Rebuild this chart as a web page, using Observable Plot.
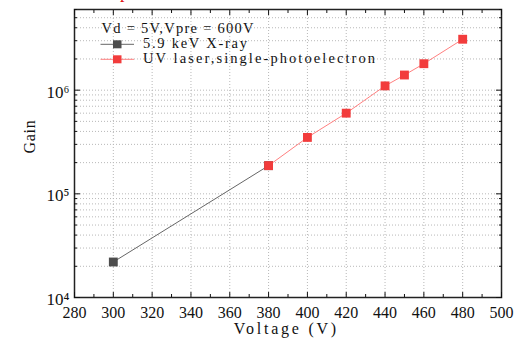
<!DOCTYPE html>
<html>
<head>
<meta charset="utf-8">
<script src="https://cdn.jsdelivr.net/npm/d3@7"></script>
<script src="https://cdn.jsdelivr.net/npm/@observablehq/plot@0.6"></script>
<style>
  html, body { margin: 0; padding: 0; background: #fff; }
  #wrap { position: relative; width: 529px; height: 341px; overflow: hidden; }
  .top-red { position: absolute; left: 120px; top: -18px; font-family: "Liberation Serif", serif; font-size: 18px; color: #e01010; }
</style>
</head>
<body>
<div id="wrap"></div>
<script>
// ---- data ----
const xrayVoltage = [300, 380];
const xrayGain = [2.2e4, 1.87e5];
const uvVoltage = [380, 400, 420, 440, 450, 460, 480];
const uvGain = [1.87e5, 3.5e5, 6.0e5, 1.1e6, 1.4e6, 1.8e6, 3.1e6];
const xTicks = [280, 300, 320, 340, 360, 380, 400, 420, 440, 460, 480, 500];
const xMinorTicks = [290, 310, 330, 350, 370, 390, 410, 430, 450, 470, 490];
const yDecades = [1e4, 1e5, 1e6];
const yTickLabels = ["10\u2074", "10\u2075", "10\u2076"];
const seriesNames = ["5.9 keV X-ray", "UV laser,single-photoelectron"];
const legendTitle = "Vd = 5V,Vpre = 600V";
const xTitle = "Voltage (V)";
const yTitle = "Gain";

const serifFont = "'Liberation Serif', 'Times New Roman', serif";
const yMinor = yDecades.flatMap(d => [2,3,4,5,6,7,8,9].map(k => k * d)).filter(v => v <= 6e6);
const yAll = yDecades.concat(yMinor);
const xray = xrayVoltage.map((v, i) => ({v, g: xrayGain[i]}));
const uv = uvVoltage.map((v, i) => ({v, g: uvGain[i]}));
const gray = "#4d4d4d", grayLine = "#666", red = "#f23c3c", redLine = "#ff8080";

const chart = Plot.plot({
  width: 529, height: 341,
  marginLeft: 74, marginRight: 28, marginTop: 9, marginBottom: 44,
  x: {domain: [280, 500], label: null},
  y: {type: "log", domain: [1e4, 6e6], label: null},
  style: {fontFamily: serifFont, fontSize: "16px", background: "white", color: "#111"},
  marks: [
    Plot.gridX(xTicks, {stroke: "#b8b8b8", strokeOpacity: 1, strokeDasharray: "1,2"}),
    Plot.gridY(yAll, {stroke: "#b8b8b8", strokeOpacity: 1, strokeDasharray: "1,2"}),
    Plot.line(xray, {x: "v", y: "g", stroke: grayLine, strokeWidth: 1}),
    Plot.line(uv, {x: "v", y: "g", stroke: redLine, strokeWidth: 1}),
    Plot.dot(xray, {x: "v", y: "g", symbol: "square", r: 5, fill: gray, stroke: "none"}),
    Plot.dot(uv, {x: "v", y: "g", symbol: "square", r: 5, fill: red, stroke: "none"}),
    Plot.frame({stroke: "#222", strokeWidth: 1.5}),
    // ticks (inward)
    Plot.axisX(xTicks, {anchor: "bottom", tickSize: -5, tickFormat: () => "", label: null}),
    Plot.axisX(xMinorTicks, {anchor: "bottom", tickSize: -3, tickFormat: () => "", label: null}),
    Plot.axisX(xTicks, {anchor: "top", tickSize: -5, tickFormat: () => "", label: null}),
    Plot.axisX(xMinorTicks, {anchor: "top", tickSize: -3, tickFormat: () => "", label: null}),
    Plot.axisY(yDecades, {anchor: "left", tickSize: -6, tickFormat: () => "", label: null}),
    Plot.axisY(yMinor, {anchor: "left", tickSize: -3, tickFormat: () => "", label: null}),
    Plot.axisY(yDecades, {anchor: "right", tickSize: -6, tickFormat: () => "", label: null}),
    Plot.axisY(yMinor, {anchor: "right", tickSize: -3, tickFormat: () => "", label: null}),
    // labels
    Plot.axisX(xTicks, {anchor: "bottom", tickSize: 0, tickPadding: 9, label: null, fontSize: 16, fontFamily: serifFont}),
    Plot.axisY(yDecades, {anchor: "left", tickSize: 0, tickPadding: 5, dy: 2, label: null, fontSize: 17, fontFamily: serifFont,
      tickFormat: d => yTickLabels[yDecades.indexOf(d)]}),
    Plot.text([xTitle], {frameAnchor: "bottom", dy: 36, dx: -3, fontFamily: serifFont, fontSize: 16, fill: "#111"}),
    Plot.text([yTitle], {frameAnchor: "left", dx: -45, rotate: -90, fontFamily: serifFont, fontSize: 16, fill: "#111"})
  ]
});

// mimic the half-width (monospaced) serif font of the original
const svg = d3.select(chart);
svg.selectAll("text").each(function() {
  const t = this.textContent;
  if (t === xTitle) { this.setAttribute("textLength", t.length * 9.3); this.setAttribute("lengthAdjust", "spacing"); }
  if (t === yTitle) { this.setAttribute("textLength", t.length * 8.3); this.setAttribute("lengthAdjust", "spacing"); }
});

// legend (inside plot, top-left)
const leg = svg.append("g").attr("font-family", serifFont).attr("font-size", 14.5)
  .attr("fill", "#111").attr("text-anchor", "start");
const cell = 8.0;
leg.append("text").attr("x", 101.5).attr("y", 33).text(legendTitle)
  .attr("textLength", legendTitle.length * cell).attr("lengthAdjust", "spacing");
[[seriesNames[0], gray, grayLine, 48], [seriesNames[1], red, redLine, 63]].forEach(([name, c, lc, base]) => {
  const cy = base - 3.7;
  leg.append("line").attr("x1", 100.5).attr("x2", 134).attr("y1", cy).attr("y2", cy).attr("stroke", lc).attr("stroke-width", 1);
  leg.append("rect").attr("x", 113).attr("y", cy - 4).attr("width", 8.5).attr("height", 8).attr("fill", c);
  leg.append("text").attr("x", 143).attr("y", base).text(name)
    .attr("textLength", name.length * cell).attr("lengthAdjust", "spacing");
});

const wrap = document.getElementById("wrap");
wrap.appendChild(chart);

// top clipped red character (part of a heading above the figure)
const tr = document.createElement("div");
tr.className = "top-red"; tr.textContent = "p";
wrap.appendChild(tr);
</script>
</body>
</html>
